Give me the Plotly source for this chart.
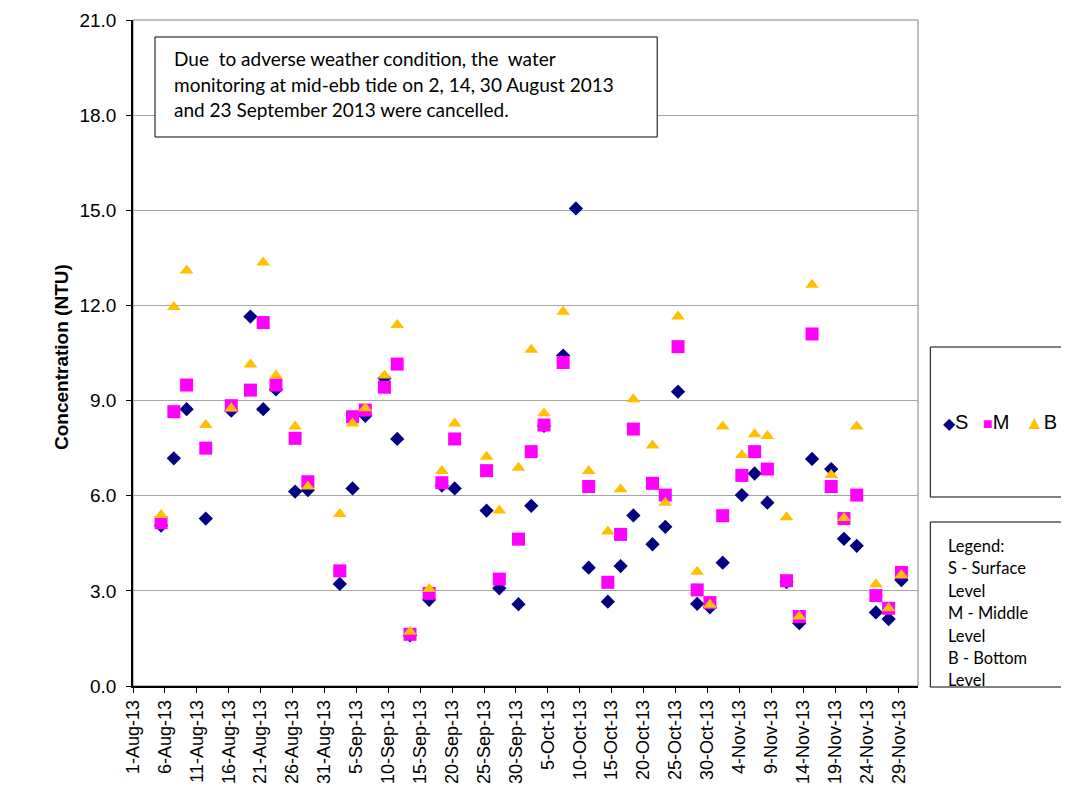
import pandas as pd
import plotly.graph_objects as go

# ---- data ----
dates = [
    "2013-08-05", "2013-08-07", "2013-08-09", "2013-08-12", "2013-08-16",
    "2013-08-19", "2013-08-21", "2013-08-23", "2013-08-26", "2013-08-28",
    "2013-09-02", "2013-09-04", "2013-09-06", "2013-09-09", "2013-09-11",
    "2013-09-13", "2013-09-16", "2013-09-18", "2013-09-20", "2013-09-25",
    "2013-09-27", "2013-09-30", "2013-10-02", "2013-10-04", "2013-10-07",
    "2013-10-09", "2013-10-11", "2013-10-14", "2013-10-16", "2013-10-18",
    "2013-10-21", "2013-10-23", "2013-10-25", "2013-10-28", "2013-10-30",
    "2013-11-01", "2013-11-04", "2013-11-06", "2013-11-08", "2013-11-11",
    "2013-11-13", "2013-11-15", "2013-11-18", "2013-11-20", "2013-11-22",
    "2013-11-25", "2013-11-27", "2013-11-29",
]
sample_time = "09:36"

surface = [
    5.06, 7.18, 8.73, 5.28, 8.68, 11.65, 8.73, 9.35, 6.13, 6.18,
    3.22, 6.23, 8.52, 9.70, 7.79, 1.60, 2.72, 6.32, 6.23, 5.53,
    3.08, 2.58, 5.68, 8.20, 10.42, 15.06, 3.73, 2.66, 3.78, 5.38,
    4.47, 5.02, 9.28, 2.59, 2.48, 3.89, 6.02, 6.70, 5.78, 3.28,
    1.98, 7.16, 6.84, 4.64, 4.42, 2.32, 2.11, 3.34,
]
middle = [
    5.15, 8.65, 9.49, 7.50, 8.84, 9.33, 11.46, 9.49, 7.81, 6.44,
    3.63, 8.49, 8.70, 9.42, 10.15, 1.63, 2.92, 6.41, 7.79, 6.79,
    3.37, 4.63, 7.39, 8.23, 10.20, None, 6.29, 3.27, 4.78, 8.10,
    6.39, 6.02, 10.70, 3.03, 2.63, 5.37, 6.64, 7.39, 6.84, 3.32,
    2.19, 11.10, 6.29, 5.28, 6.02, 2.85, 2.45, 3.58,
]
bottom = [
    5.39, 11.95, 13.10, 8.23, 8.76, 10.14, 13.35, 9.79, 8.18, 6.29,
    5.42, 8.28, 8.76, 9.79, 11.38, 1.71, 3.06, 6.78, 8.28, 7.23,
    5.53, 6.88, 10.60, 8.60, 11.80, None, 6.78, 4.87, 6.20, 9.04,
    7.58, 5.78, 11.65, 3.60, 2.56, 8.18, 7.28, 7.94, 7.88, 5.32,
    2.19, 12.65, 6.65, 5.30, 8.18, 3.21, 2.45, 3.50,
]

series_names = ["S", "M", "B"]
series_colors = ["#000080", "#FF00FF", "#FFC000"]
series_symbols = ["diamond", "square", "triangle-up"]
series_sizes = [11, 13, 12]

y_ticks = [0, 3, 6, 9, 12, 15, 18, 21]
x_range = ["2013-08-01", "2013-12-02"]

note_lines = [
    "Due  to adverse weather condition, the  water",
    "monitoring at mid-ebb tide on 2, 14, 30 August 2013",
    "and 23 September 2013 were cancelled.",
]
legend_lines = ["Legend:", "S - Surface", "Level", "M - Middle", "Level",
                "B - Bottom", "Level"]

# ---- geometry (page offset of 8px from the default body margin) ----
W, H = 1053, 787
OFF = 8
PLOT_L, PLOT_R, PLOT_T, PLOT_B = 133, 917.7, 20, 686   # page pixels of plot area
PW, PH = PLOT_R - PLOT_L, PLOT_B - PLOT_T
L = PLOT_L - OFF
T = PLOT_T - OFF
R = W - L - PW
B = H - T - PH


def px(x):
    return (x - PLOT_L) / PW


def py(y):
    return (PLOT_B - y) / PH


x_vals = pd.to_datetime([f"{d} {sample_time}" for d in dates])

fig = go.Figure()
for name, vals, col, sym, size in zip(series_names, [surface, middle, bottom],
                                      series_colors, series_symbols, series_sizes):
    fig.add_trace(go.Scatter(
        x=x_vals, y=vals, mode="markers", name=name,
        marker=dict(symbol=sym, size=size, color=col, line=dict(width=0)),
    ))

fig.update_layout(
    width=W, height=H,
    margin=dict(l=L, r=R, t=T, b=B, autoexpand=False),
    paper_bgcolor="white", plot_bgcolor="white",
    showlegend=False,
    font=dict(family="Liberation Sans, Arial, sans-serif", color="#000"),
)

fig.update_xaxes(
    type="date", range=x_range,
    tick0="2013-08-01", dtick=5 * 24 * 3600 * 1000,
    tickformat="%-d-%b-%y", tickangle=-90,
    tickfont=dict(size=18, family="Liberation Sans, Arial, sans-serif"),
    ticks="outside", ticklen=5, tickcolor="#000",
    showgrid=False, zeroline=False,
    showline=True, linecolor="#000", linewidth=1.5,
)
fig.update_yaxes(
    range=[0, 21], tickvals=y_ticks, tickformat=".1f",
    tickfont=dict(size=19, family="Liberation Sans, Arial, sans-serif"),
    ticks="outside", ticklen=5, tickcolor="#000",
    showgrid=True, gridcolor="#a6a6a6", gridwidth=1,
    zeroline=False,
    showline=True, linecolor="#000", linewidth=1.5,
    ticklabelstandoff=6,
)

shapes = []
# plot frame (top/right)
shapes.append(dict(type="rect", xref="paper", yref="paper", x0=0, x1=1, y0=0, y1=1,
                   line=dict(color="#808080", width=1), layer="below"))
# outer chart border on the left
shapes.append(dict(type="line", xref="paper", yref="paper",
                   x0=px(5), x1=px(5), y0=py(H + 20), y1=py(-5),
                   line=dict(color="#b0b0b0", width=1)))
# note box
shapes.append(dict(type="rect", xref="paper", yref="paper",
                   x0=px(155), x1=px(657), y0=py(137), y1=py(37),
                   line=dict(color="#000", width=1), fillcolor="white", layer="above"))
# legend boxes (run off the right edge, as in the original)
shapes.append(dict(type="rect", xref="paper", yref="paper",
                   x0=px(930), x1=px(1100), y0=py(497), y1=py(347),
                   line=dict(color="#000", width=1), fillcolor="white"))
shapes.append(dict(type="rect", xref="paper", yref="paper",
                   x0=px(930), x1=px(1100), y0=py(687), y1=py(522),
                   line=dict(color="#000", width=1), fillcolor="white"))

annotations = []
# y-axis title
annotations.append(dict(
    text="<b>Concentration (NTU)</b>", xref="paper", yref="paper",
    x=px(61), y=py(357), textangle=-90, showarrow=False,
    xanchor="center", yanchor="middle",
    font=dict(size=19, family="Liberation Sans, Arial, sans-serif", color="#000"),
))
# note text
for i, line in enumerate(note_lines):
    annotations.append(dict(
        text=line, xref="paper", yref="paper", x=px(172), y=py(59 + 25 * i),
        xanchor="left", yanchor="middle", showarrow=False,
        font=dict(size=19, family="Lato, Carlito, sans-serif", color="#000"),
    ))
# legend 1 (symbols + letters)
glyphs = ["\u25c6", "\u25a0", "\u25b2"]
glyph_sizes = [16, 16, 19]
leg_x = [941, 981, 1023]
for g, gs, name, col, lx in zip(glyphs, glyph_sizes, series_names, series_colors, leg_x):
    annotations.append(dict(
        text=f"<span style='color:{col};font-size:{gs}px'>{g}</span>{name}",
        xref="paper", yref="paper", x=px(lx), y=py(422),
        xanchor="left", yanchor="middle", showarrow=False,
        font=dict(size=20, family="Liberation Sans, Arial, sans-serif", color="#000"),
    ))
# legend 2 text
for i, line in enumerate(legend_lines):
    annotations.append(dict(
        text=line, xref="paper", yref="paper", x=px(946), y=py(546 + 22.4 * i),
        xanchor="left", yanchor="middle", showarrow=False,
        font=dict(size=16.5, family="Lato, Carlito, sans-serif", color="#000"),
    ))

fig.update_layout(shapes=shapes, annotations=annotations)
fig.write_html("out.html")
